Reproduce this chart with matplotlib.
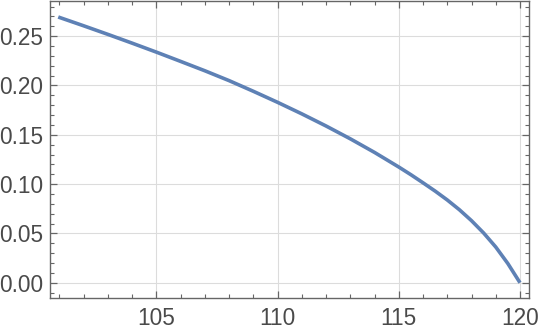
import matplotlib
matplotlib.use("Agg")
import matplotlib.pyplot as plt
from matplotlib.ticker import MultipleLocator

x_vals = [100.95, 101, 102, 103, 104, 105, 106, 107, 108, 109, 110, 111, 112, 113,
          114, 115, 115.5, 116, 116.5, 117, 117.5, 118, 118.5, 119, 119.5, 120]
y_vals = [0.2695, 0.2690, 0.2605, 0.2518, 0.2429, 0.2338, 0.2244, 0.2149, 0.2049,
          0.1941, 0.1829, 0.1712, 0.1589, 0.1459, 0.1321, 0.1173, 0.1095, 0.1013,
          0.0929, 0.0839, 0.0740, 0.0629, 0.0504, 0.0362, 0.0194, 0.0]
x_ticks = [105, 110, 115, 120]
y_ticks = [0.00, 0.05, 0.10, 0.15, 0.20, 0.25]

plt.rcParams['font.family'] = ['Liberation Sans', 'DejaVu Sans']
fig = plt.figure(figsize=(5.4, 3.32), dpi=100)
ax = fig.add_axes([0.0926, 0.1033, 0.980 - 0.0926, 0.998 - 0.1033])

ax.plot(x_vals, y_vals, color='#5E81B5', lw=2.6, solid_capstyle='butt',
        solid_joinstyle='round', zorder=3)

ax.set_xlim(100.61, 120.38)
ax.set_ylim(-0.0152, 0.286)
ax.set_xticks(x_ticks)
ax.set_yticks(y_ticks)
ax.set_yticklabels([f"{v:.2f}" for v in y_ticks])
ax.xaxis.set_minor_locator(MultipleLocator(1))
ax.yaxis.set_minor_locator(MultipleLocator(0.01))
ax.grid(True, which='major', color='#dcdcdc', lw=0.8)
ax.set_axisbelow(True)

for s in ax.spines.values():
    s.set_color('#666666')
    s.set_linewidth(1.0)
ax.tick_params(which='both', direction='in', top=True, right=True, color='#666666',
               labelcolor='#4a4a4a', labelsize=16.3)
ax.tick_params(which='major', length=5, width=0.9)
ax.tick_params(which='minor', length=3, width=0.8)
ax.tick_params(axis='y', pad=5)
ax.tick_params(axis='x', pad=7)

fig.savefig('out.png', dpi=100)
